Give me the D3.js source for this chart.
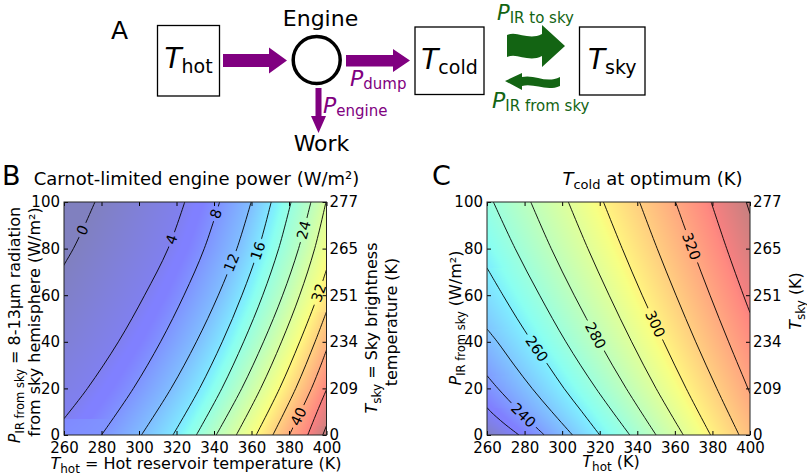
<!DOCTYPE html>
<html>
<head>
<meta charset="utf-8">
<script src="https://cdn.jsdelivr.net/npm/d3@7"></script>
<style>
body { margin: 0; background: #fff; }
svg { font-family: "DejaVu Sans", sans-serif; }
</style>
</head>
<body>
<svg id="fig" width="807" height="475"></svg>
<script>
// ---- data ----
const thotTicks = [260, 280, 300, 320, 340, 360, 380, 400];
const pTicks = [0, 20, 40, 60, 80, 100];
const tskyLabels = ["0", "209", "234", "251", "265", "277"];

// panel B: engine power contours, each line as [T_hot, P_IR from sky] points
// (the 0 line is T_hot = T_sky, so it runs on through the right-axis pairs outside the frame)
const powerLevels = [0, 4, 8, 12, 16, 20, 24, 28, 32, 36, 40, 44, 48];
const powerLines = [
	[[0, 0], [209, 20], [234, 40], [251, 60], [260, 73], [265, 80], [271, 90], [276.5, 100]],
	[[260, 7], [272.5, 20], [289, 40], [303, 60], [315.5, 80], [324.4, 100]],
	[[280, 0], [297, 20], [311.5, 40], [324, 60], [334.8, 80], [343, 100]],
	[[301.3, 0], [317.1, 20], [330.6, 40], [342.3, 60], [352.2, 80], [359.8, 100]],
	[[318.1, 0], [332.3, 20], [344.4, 40], [354.9, 60], [363.8, 80], [370.5, 100]],
	[[330.6, 0], [344.2, 20], [355.8, 40], [366, 60], [374.5, 80], [381.1, 100]],
	[[341.2, 0], [354.8, 20], [366.4, 40], [376.6, 60], [385.1, 80], [391.7, 100]],
	[[351.9, 0], [364.9, 20], [376, 40], [385.7, 60], [393.7, 80], [399.7, 100]],
	[[362.5, 0], [375, 20], [385.7, 40], [395.4, 60], [400, 71]],
	[[371.4, 0], [383.6, 20], [393.9, 40], [400, 53]],
	[[380.2, 0], [386.2, 10], [392, 20], [397, 30], [400, 36.5]],
	[[390, 0], [395, 10], [400, 19.5]],
	[[398, 0], [400, 4]]
];
// [level, P where the label sits]
const powerLabels = [[0, 88], [4, 84], [8, 95], [12, 74], [16, 79], [24, 88], [32, 61], [40, 8]];
const powerRange = [0, 49];

// panel C: optimum T_cold contours
const tcoldLevels = [230, 240, 250, 260, 270, 280, 290, 300, 310, 320, 330, 340];
const tcoldLines = [
	[[277, 0], [269, 5], [262, 10], [260, 11.8]],
	[[290.5, 0], [277.5, 10], [265.8, 20], [260, 25.5]],
	[[305.5, 0], [294.5, 10], [284, 20], [274.5, 30], [265.5, 40], [260, 45.5]],
	[[320, 0], [310.5, 10], [301, 20], [292.5, 30], [284, 40], [276, 50], [268.5, 60], [260, 71.7]],
	[[336, 0], [318, 20], [302, 40], [288, 60], [275, 80], [263.4, 100]],
	[[350, 0], [334.1, 20], [319.7, 40], [306.4, 60], [294.2, 80], [283.3, 100]],
	[[364.5, 0], [350, 20], [337, 40], [325, 60], [313.7, 80], [303.3, 100]],
	[[379, 0], [366, 20], [354, 40], [342.6, 60], [332, 80], [322, 100]],
	[[394.2, 0], [382.3, 20], [371.1, 40], [360.6, 60], [350.6, 80], [341.2, 100]],
	[[400, 17.8], [398.9, 20], [388.6, 40], [378.7, 60], [369.3, 80], [360.4, 100]],
	[[400, 52.5], [396.5, 60], [387.6, 80], [379.3, 100]],
	[[400, 95], [398, 100]]
];
const tcoldLabels = [[240, 8.5], [260, 37], [280, 42.7], [300, 47.7], [320, 81]];
const tcoldRange = [217, 342];

// ---- helpers ----
const svg = d3.select("#fig");
svg.append("rect").attr("width", 807).attr("height", 475).attr("fill", "#fff");

// matplotlib jet, shown at 50% alpha over white
const jetR = d3.scaleLinear([0, .35, .66, .89, 1], [0, 0, 1, 1, .5]).clamp(true);
const jetG = d3.scaleLinear([0, .125, .375, .64, .91, 1], [0, 0, 1, 1, 0, 0]).clamp(true);
const jetB = d3.scaleLinear([0, .11, .34, .65, 1], [.5, 1, 1, 0, 0]).clamp(true);

function tAt(line, p) {
	for (let i = 0; i < line.length - 1; i++) {
		let [t0, p0] = line[i], [t1, p1] = line[i + 1];
		if ((p - p0) * (p - p1) <= 0 && p1 !== p0) return t0 + (t1 - t0) * (p - p0) / (p1 - p0);
	}
	return null;
}

function subText(g, x, y, main, sub, rest, o) {
	let t = g.append("text").attr("x", x).attr("y", y)
		.attr("text-anchor", o.anchor || "middle").attr("fill", o.color || "#000");
	if (o.transform) t.attr("transform", o.transform);
	t.append("tspan").attr("font-size", o.size).attr("font-style", "italic").text(main);
	t.append("tspan").attr("font-size", o.subSize).attr("dy", o.shift).text(sub);
	if (rest) t.append("tspan").attr("font-size", o.size).attr("dy", -o.shift).text(rest);
	return t;
}

function panel(id, x, y, levels, lines, labels, range, floor) {
	let [xa, xb] = x.range(), [ya, yb] = y.range();
	let w = Math.round(xb - xa), h = Math.round(ya - yb);

	// colour field: per row, interpolate between contour crossings
	let cv = document.createElement("canvas");
	cv.width = w; cv.height = h;
	let ctx = cv.getContext("2d");
	let img = ctx.createImageData(w, h);
	for (let j = 0; j < h; j++) {
		let p = y.invert(yb + j + 0.5);
		let knots = [];
		lines.forEach((ln, k) => {
			let t = tAt(ln, p);
			if (t !== null) knots.push([x(t), levels[k]]);
		});
		knots.sort((a, b) => a[0] - b[0]);
		let row = d3.scaleLinear(knots.map(d => d[0]), knots.map(d => d[1]));
		for (let i = 0; i < w; i++) {
			let v = row(xa + i + 0.5);
			if (floor) v = Math.max(v, range[0]);
			let c = (v - range[0]) / (range[1] - range[0]);
			let k = 4 * (j * w + i);
			img.data[k] = 255 * (0.5 + 0.5 * jetR(c));
			img.data[k + 1] = 255 * (0.5 + 0.5 * jetG(c));
			img.data[k + 2] = 255 * (0.5 + 0.5 * jetB(c));
			img.data[k + 3] = 255;
		}
	}
	ctx.putImageData(img, 0, 0);
	svg.append("image").attr("x", xa).attr("y", yb).attr("width", w).attr("height", h)
		.attr("preserveAspectRatio", "none").attr("href", cv.toDataURL());

	let clip = svg.append("clipPath").attr("id", id + "c");
	clip.append("rect").attr("x", xa).attr("y", yb).attr("width", w).attr("height", h);

	// label placement
	let placed = labels.map(([lev, p]) => {
		let ln = lines[levels.indexOf(lev)];
		let t = tAt(ln, p);
		let t1 = tAt(ln, p - 2), t2 = tAt(ln, p + 2);
		let a = Math.atan2(y(p + 2) - y(p - 2), x(t2) - x(t1)) * 180 / Math.PI;
		if (a > 90) a -= 180;
		if (a < -90) a += 180;
		return { lev: lev, cx: x(t), cy: y(p), a: a };
	});

	let mask = svg.append("mask").attr("id", id + "m").attr("maskUnits", "userSpaceOnUse");
	mask.append("rect").attr("width", 807).attr("height", 475).attr("fill", "#fff");
	placed.forEach(d => {
		let lw = String(d.lev).length * 9.5 + 6;
		mask.append("rect").attr("x", -lw / 2).attr("y", -6).attr("width", lw).attr("height", 12)
			.attr("fill", "#000").attr("transform", `translate(${d.cx},${d.cy}) rotate(${d.a})`);
	});

	let line = d3.line().x(d => x(d[0])).y(d => y(d[1])).curve(d3.curveCatmullRom);
	svg.append("g").attr("clip-path", `url(#${id}c)`).append("g").attr("mask", `url(#${id}m)`)
		.selectAll("path").data(lines).join("path")
		.attr("d", line).attr("fill", "none").attr("stroke", "#000").attr("stroke-width", 0.9);

	svg.append("g").selectAll("text").data(placed).join("text")
		.attr("transform", d => `translate(${d.cx},${d.cy}) rotate(${d.a})`)
		.attr("text-anchor", "middle").attr("dy", "0.36em").attr("font-size", 14.5)
		.text(d => d.lev);

	// axes
	let axes = svg.append("g");
	axes.append("g").attr("transform", `translate(0,${ya})`)
		.call(d3.axisBottom(x).tickValues(thotTicks).tickFormat(d3.format("d")).tickSizeInner(-4).tickSizeOuter(0).tickPadding(7));
	axes.append("g").attr("transform", `translate(0,${yb})`)
		.call(d3.axisTop(x).tickValues(thotTicks).tickFormat("").tickSizeInner(-4).tickSizeOuter(0));
	axes.append("g").attr("transform", `translate(${xa},0)`)
		.call(d3.axisLeft(y).tickValues(pTicks).tickSizeInner(-4).tickSizeOuter(0).tickPadding(4));
	axes.append("g").attr("transform", `translate(${xb},0)`)
		.call(d3.axisRight(y).tickValues(pTicks).tickFormat((d, i) => tskyLabels[i]).tickSizeInner(-4).tickSizeOuter(0).tickPadding(3));
	axes.selectAll(".domain").remove();
	axes.selectAll("g").attr("font-family", null).attr("font-size", null);
	axes.selectAll("text").attr("font-size", 15).attr("fill", "#000");
	axes.selectAll("line").attr("stroke", "#000");

	svg.append("rect").attr("x", xa).attr("y", yb).attr("width", xb - xa).attr("height", ya - yb)
		.attr("fill", "none").attr("stroke", "#222").attr("stroke-width", 1);
}

// ---- panel A: schematic ----
const purple = "#800080", green = "#136413";
svg.append("text").attr("x", 111).attr("y", 39).attr("font-size", 25).text("A");

const boxes = [[157.5, 25.5, 62, 70.5, "hot"], [415, 27, 69, 67.5, "cold"], [579.5, 27, 65.5, 68, "sky"]];
boxes.forEach(b => {
	svg.append("rect").attr("x", b[0]).attr("y", b[1]).attr("width", b[2]).attr("height", b[3])
		.attr("fill", "#fff").attr("stroke", "#000").attr("stroke-width", 1.3);
	subText(svg, b[0] + b[2] / 2, b[1] + 42, "T", b[4], null, { size: 28, subSize: 19, shift: 5 });
});

// purple arrows
svg.append("path").attr("fill", purple)
	.attr("d", "M223,54 L269,54 L269,47.5 L287,60.5 L269,73.5 L269,67 L223,67 Z");
svg.append("path").attr("fill", purple)
	.attr("d", "M346,55 L393,55 L393,49 L410,60.5 L393,72 L393,66.5 L346,66.5 Z");
svg.append("path").attr("fill", purple)
	.attr("d", "M315.5,88 L321.5,88 L321.5,116 L326,116 L318.5,133 L311,116 L315.5,116 Z");
svg.append("circle").attr("cx", 316.7).attr("cy", 60).attr("r", 23.5)
	.attr("fill", "none").attr("stroke", "#000").attr("stroke-width", 3.5);
svg.append("text").attr("x", 320.5).attr("y", 26).attr("text-anchor", "middle").attr("font-size", 22).text("Engine");
svg.append("text").attr("x", 321.5).attr("y", 151).attr("text-anchor", "middle").attr("font-size", 22).text("Work");
subText(svg, 350, 86, "P", "dump", null, { anchor: "start", size: 22, subSize: 15, shift: 3, color: purple });
subText(svg, 323, 113, "P", "engine", null, { anchor: "start", size: 22, subSize: 15, shift: 3, color: purple });

// green wavy arrows
svg.append("path").attr("fill", green)
	.attr("d", "M507,35 C517,30 528,41 542,34 L542,25 L565,46 L542,67 L542,56 C528,63 517,52 507,57 Z");
svg.append("path").attr("fill", green)
	.attr("d", "M505,81 L522,73 L522,77 C535,74 546,84 560,77 L560,86 C546,92 535,83 522,86 L522,90 Z");
subText(svg, 497, 20, "P", "IR to sky", null, { anchor: "start", size: 21, subSize: 15, shift: 3, color: green });
subText(svg, 492, 108, "P", "IR from sky", null, { anchor: "start", size: 22, subSize: 15, shift: 3, color: green });

// ---- panel B ----
const xB = d3.scaleLinear([260, 400], [64, 326.5]);
const yB = d3.scaleLinear([0, 100], [435, 202]);
panel("b", xB, yB, powerLevels, powerLines, powerLabels, powerRange, true);

svg.append("text").attr("x", 2).attr("y", 185).attr("font-size", 27).text("B");
svg.append("text").attr("x", 196.5).attr("y", 185).attr("text-anchor", "middle").attr("font-size", 18)
	.text("Carnot-limited engine power (W/m²)");
subText(svg, 196, 469, "T", "hot", " = Hot reservoir temperature (K)", { size: 16, subSize: 12, shift: 4 });
subText(svg, 0, 0, "P", "IR from sky", " = 8-13μm radiation",
	{ size: 16, subSize: 11.5, shift: 4, transform: "translate(20,325) rotate(-90)" });
svg.append("text").attr("transform", "translate(40,322) rotate(-90)").attr("text-anchor", "middle")
	.attr("font-size", 16).text("from sky hemisphere (W/m²)");
subText(svg, 0, 0, "T", "sky", " = Sky brightness",
	{ size: 16, subSize: 12, shift: 4, transform: "translate(377,328) rotate(-90)" });
svg.append("text").attr("transform", "translate(397,322) rotate(-90)").attr("text-anchor", "middle")
	.attr("font-size", 16).text("temperature (K)");

// ---- panel C ----
const xC = d3.scaleLinear([260, 400], [487, 750]);
const yC = d3.scaleLinear([0, 100], [435, 202]);
panel("c", xC, yC, tcoldLevels, tcoldLines, tcoldLabels, tcoldRange, false);

svg.append("text").attr("x", 432).attr("y", 185).attr("font-size", 27).text("C");
subText(svg, 652.5, 185, "T", "cold", " at optimum (K)", { size: 18, subSize: 13, shift: 4 });
subText(svg, 611, 467, "T", "hot", " (K)", { size: 16, subSize: 12, shift: 4 });
subText(svg, 0, 0, "P", "IR from sky", " (W/m²)",
	{ size: 16, subSize: 11.5, shift: 4, transform: "translate(461,318) rotate(-90)" });
subText(svg, 0, 0, "T", "sky", " (K)",
	{ size: 16, subSize: 12, shift: 4, transform: "translate(801,301) rotate(-90)" });
</script>
</body>
</html>
